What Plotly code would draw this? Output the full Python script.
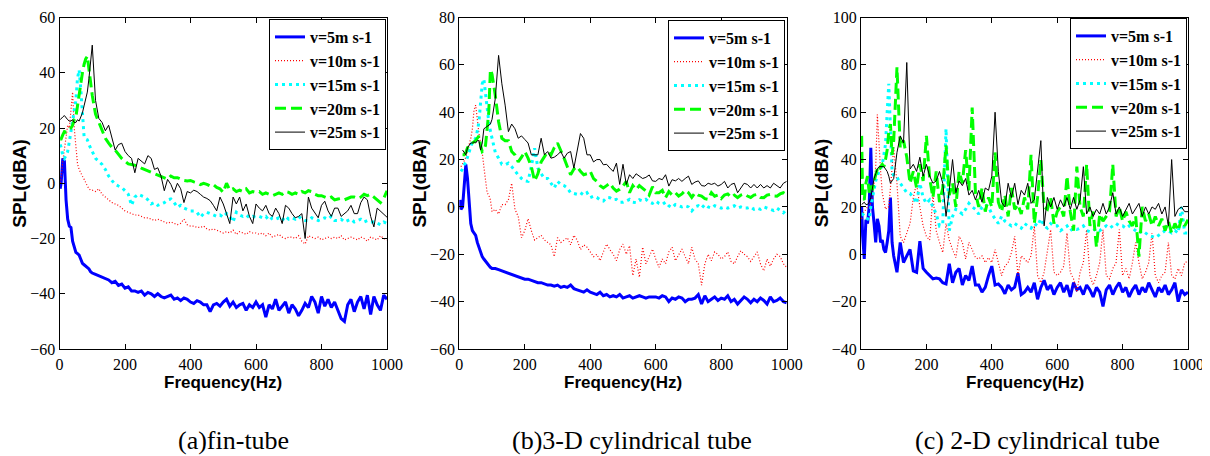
import plotly.graph_objects as go
from plotly.subplots import make_subplots

# frequency grid (Hz)
f_low = [2] + list(range(5, 101, 5))
f_high = list(range(110, 1001, 10))
freq = f_low + f_high

labels = ["v=5m s-1", "v=10m s-1", "v=15m s-1", "v=20m s-1", "v=25m s-1"]
captions = ["(a)fin-tube", "(b)3-D cylindrical tube", "(c) 2-D cylindrical tube"]

# (a) fin-tube, SPL(dBA)
a_v5 = [-2, 0, 9, 8, -6, -13, -15.5, -16, -21, -23, -25, -25.5, -26, -27.5, -29, -29.5, -30, -30.5, -31, -32, -32.5,
        -33, -33.5, -34, -34.5, -35, -36, -35.5, -37, -36.5, -38,
        -37.5, -39, -39, -39.5, -39, -40.5, -39.5, -40, -41, -40,
        -41, -41.5, -41, -40.5, -42, -41.5, -42.5, -41.5, -42, -43,
        -43.5, -42.5, -43, -44, -44, -46.5, -44, -43.5, -44.5, -43,
        -42, -44.5, -43, -45, -44, -43.5, -46, -44, -45, -43,
        -45, -44, -48.5, -44, -45.5, -42, -46, -44.5, -43, -47,
        -44, -45.5, -48, -46, -43.5, -45, -41, -43, -47, -41,
        -44.5, -42, -45, -43, -46, -49, -50, -44, -42, -46.5,
        -43, -41, -45.5, -40.5, -47.5, -41, -44, -46, -40.5, -42]
a_v10 = [0, 2, 8, 13, 18, 21, 20, 28, 33, 20, 12, 7, 5, 3.5, 2.5, 1.5, 0, -1, -2, -2.5, -2.5,
         -3, -2, -4, -5, -6, -7, -7.5, -8, -9, -10,
         -10.5, -11, -11.5, -11.5, -12, -12.5, -12.5, -13, -13.5, -13,
         -13.5, -14, -14.5, -14, -14.5, -15, -14.5, -13, -15, -15.5,
         -15.5, -16, -16, -15.5, -16.5, -17, -16.5, -17, -17.5, -18,
         -17.5, -18, -17, -18.5, -17.5, -18, -18.5, -17.5, -18, -18,
         -18.5, -18, -19, -18, -19.5, -19, -18.5, -19.5, -20, -19.5,
         -19.5, -20, -19, -21, -22, -19, -19.5, -20, -19.5, -20.5,
         -20, -19.5, -20, -19.5, -20, -19, -20.5, -20, -19.5, -20,
         -20.5, -19.5, -20, -21, -19.5, -20, -20.5, -19, -20, -20.5]
a_v15 = [14, 13, 10, 9, 10, 11.5, 15, 18.7, 22, 26, 30, 38, 41, 34, 26, 17, 16, 15.7, 14, 12.5, 11.5,
         9, 8, 6.8, 5, 2.6, 1, -0.4, -1, -1.5, -2.7,
         -4, -8, -5, -4, -4.5, -5, -6, -7.5, -7, -8,
         -7.5, -7, -6, -5.7, -7, -8.7, -8, -9, -9.5, -10,
         -10, -10.5, -12.3, -11, -10.5, -11, -11.5, -12, -11.5, -12.3,
         -11, -12, -14, -10.5, -11.5, -12, -11.5, -12.5, -12, -12.3,
         -12, -12.5, -12, -13.5, -12.5, -13, -12.5, -13.5, -12, -13,
         -12.5, -13, -12, -13, -13.5, -13.5, -12.5, -13, -13.5, -13,
         -12.5, -13, -12, -13.5, -13.5, -13, -14, -13.5, -13, -14,
         -13.5, -13, -14, -13.5, -14, -14, -14.5, -15, -14, -14.6]
a_v20 = [16, 16, 17.5, 18.7, 18.5, 19, 19.5, 20, 21, 23, 24, 28, 32, 37, 40, 43, 45, 46, 41, 36, 31.8,
         25, 22, 18.7, 16.3, 14.5, 13, 12, 10.5, 9, 8,
         7, 6.8, 6.5, 6.2, 5.5, 5, 4.5, 4, 3.5, 3.2,
         2.5, 2, 1.5, 2.6, 2, 2, 1.5, 1, 0.8, 1,
         0.5, 0.2, -0.5, 0, -0.4, -1, -0.5, -1.5, -2, -3.3,
         0, -2.5, -2, -3, -2.5, -3, -2, -3.5, -3, -3.3,
         -3, -4, -3.5, -4, -4.5, -4, -3.5, -4, -3, -3.3,
         -4, -3.5, -4, -3, -3.5, -2.7, -3, -4, -4.5, -4.5,
         -5, -5.5, -5, -6, -5.7, -5.5, -6, -5.5, -5, -5,
         -5.5, -5, -4, -4.5, -4, -5, -6, -7, -5.5, -2.7]
a_v25 = [23, 23.5, 24, 24.5, 23.5, 23, 22.5, 22.5, 23, 22, 22, 23, 22.5, 24, 25.5, 28, 30.5, 33, 38, 44, 50,
         30, 23.5, 22, 19, 21, 16, 12, 14, 14.5, 11.5,
         10, 9, 3.8, 9, 8, 7, 10, 9, 5, 5.6,
         2.6, -2.7, 1.4, -0.4, -3.3, 0, -2, -7, -3, -3.5,
         -2.5, -3, -4, -5, -5.5, -6.3, -8, -10, -5, -7.5,
         -11, -14.6, -5, -7.5, -5, -10, -7.5, -12, -14.6, -7.5,
         -9, -10, -8, -11, -12, -9, -11, -14.6, -8, -9,
         -11, -12.5, -12, -11, -20, -5, -9, -11, -12.5, -8,
         -6.5, -10, -12, -9, -9, -12, -11, -10, -8, -11,
         -11, -7, -5, -6, -12, -15.8, -9, -10, -11, -12.3]

# (b) 3-D cylindrical tube
b_v5 = [3, -1, 0, 8, 18, 12, 0, -7, -10, -11, -12, -15, -17, -19, -21, -22, -23, -24, -25, -25.5, -26,
        -26, -26.5, -27, -27.5, -28, -28.5, -29, -29.5, -30, -30.5,
        -30.5, -31, -31.5, -32, -32, -32.5, -33, -33, -33.5, -33,
        -34, -33.5, -34, -33, -34.5, -35, -35.5, -36, -35, -36,
        -36.5, -37, -36, -37.5, -37, -38, -37.5, -38, -37, -38.5,
        -38, -37.5, -38.5, -38, -37.5, -38, -38.5, -38, -38, -38,
        -38.5, -37.5, -38, -40, -38.5, -39, -38, -38.5, -40, -39,
        -39, -38.5, -37, -41, -37.5, -40, -39, -38, -39.5, -38.5,
        -39, -37.5, -40, -39, -41, -39.5, -38, -39, -40.5, -39,
        -40, -38.5, -39.5, -41, -38, -40, -39.5, -38.5, -40, -40.5]
b_v10 = [None, 17, 18, 19.5, 21, 23.5, 26, 29, 33, 41, 43, 36, 31, 27, 23, 17, 11, 6, 5, 3, -2,
         -1, -3, 1, 1, 3, 10, -1, -4, -13, -10,
         -5, -10, -14, -13, -12, -14, -15, -16, -21, -13,
         -15, -14, -13, -16, -12, -14, -18, -16, -17, -19,
         -21, -20, -22.7, -19, -15.7, -18, -20, -22.7, -18, -15.7,
         -20, -16.4, -29, -22, -29.7, -17, -24, -21, -17.8, -22,
         -25.5, -22, -24, -19, -17, -22.7, -20, -17.8, -21, -24,
         -17, -22, -24, -33, -24, -20, -22.7, -19, -20, -22,
         -21, -19, -23, -24, -21, -18.5, -20, -21, -23, -21,
         -19, -24, -27, -22, -25, -22, -20, -21, -24, -25.5]
b_v15 = [None, 15, 16, 17.8, 19, 21, 23.4, 25, 27.6, 28, 29, 32, 36, 44, 52, 54, 47, 40, 36, 32, 29,
         23, 20.6, 18, 17.8, 18.5, 17, 15, 13.5, 12, 11,
         10.8, 17, 24.8, 16.4, 14, 12, 12, 10, 8, 10.8,
         9.5, 9, 8, 6, 5.5, 5.3, 6, 5, 6, 3.9,
         4.5, 4, 3, 2.5, 4, 3.9, 3, 3.2, 2, 2,
         2.5, 3.2, 2, 1.8, 3, 2.5, 3.2, 2, 1.5, 2.5,
         1.5, 1, 2, 0.5, -0.3, 1, 0.5, 0, 0.5, 0,
         -1.7, 0, 0.5, -0.5, 1, 0, -0.5, 0.5, 0, -0.5,
         0, -0.5, 0, 0.5, -0.5, 0, -0.5, -0.5, 0, -1,
         -0.5, -1, 0, -0.5, -1, -1.5, -0.5, -1.7, -2.5, -1]
b_v20 = [None, None, 22, 22, 23, 25, 26, 26.5, 27, 27.6, 28, 29, 30, 26, 23.4, 24, 26, 33, 40, 58, 56,
         47, 36, 29, 28, 28, 23.4, 22, 19, 21, 23.4,
         20.6, 17, 11, 14, 19, 21, 23.4, 22, 25, 27,
         24, 20.6, 17, 13.6, 16, 17, 15, 13.6, 14, 15,
         12, 10.8, 9, 8, 9, 10, 8, 6.7, 7.5, 8.8,
         10.8, 6, 9, 7.3, 9, 8, 6.7, 5, 8.5, 6,
         6, 7, 3.9, 6.5, 5, 6, 4.6, 5.5, 7, 6,
         4, 6, 5, 4.6, 3.5, 3.2, 6, 4.5, 5, 3.5,
         5, 5.5, 4, 5, 3.9, 5, 5.5, 4.6, 4, 5,
         5.3, 4, 3.9, 5, 5.3, 4.6, 4.5, 5.5, 6, 5.3]
b_v25 = [None, None, 24, 23, 22, 25, 26, 27, 27, 27.5, 27, 28, 28, 24, 27, 33, 33.5, 34, 34.6, 35, 37,
         45.8, 64, 52, 43, 31.8, 35, 33, 29, 30, 28.5,
         27, 22, 22, 22, 29, 22, 23.4, 20.6, 21, 22,
         23.4, 20.6, 22.7, 23.4, 16.4, 23, 31, 29, 22, 22,
         19, 20, 20, 17.8, 18, 16.4, 15, 18.5, 9.5, 18,
         9.5, 13.6, 12, 14, 13, 12, 12.5, 13.5, 11, 10.8,
         12, 11.5, 13.6, 8.8, 11.5, 11, 12, 10.8, 12, 13,
         9.5, 10.5, 11, 9, 8.8, 10, 9.5, 10, 8.8, 9.5,
         10.8, 8, 9.5, 10, 6, 8, 10, 9.5, 8, 9.5,
         8, 9.5, 8, 9, 8, 10, 9, 8, 10, 10.8]

# (c) 2-D cylindrical tube
c_v5 = [20, 8, -2, 14.6, 13, 20, 45, 20, 13, 5, 15, 12, 5, 6, 2, 0.7, 5, 10, 24, 5, -0.7,
        -7.6, 5, -3.5, -0.7, 2, -7, -7.6, 5.5, -6, -7.6,
        -9, -10.4, -10, -10.4, -12, -12.5, -4, -12, -7.6, -6,
        -13, -9, -11, -5, -13, -13, -16, -14, -9, -5,
        -13, -12.5, -14, -16.7, -13, -15, -13.9, -8, -17, -16,
        -14, -16, -12, -19, -14, -11, -15, -13, -17, -14,
        -12, -16, -13, -18, -12, -15, -14, -17, -13, -15,
        -18, -14, -16, -22, -15, -13, -17, -14, -12, -16,
        -14, -18, -15, -13, -17, -14, -16, -12, -15, -18,
        -14, -16, -13, -17, -15, -12, -20, -15, -17, -16]
c_v10 = [15, 17, 18, 19, 20, 20, 22, 24, 30, 37, 59, 44, 35, 26, 22, 19, 20, 20, 28, 35, 45,
         30, 7.6, 5, 9, 13, 24, 30, 20, 12, 7.6,
         6, 25, 10, 5, 0.7, 13, 6, 2, -1.4, 7.6,
         5, -2, 5, 2, -1.4, -2, -0.7, -3.5, -1.4, -3.5,
         2, -3.5, -9, -5, -3.5, 0.7, 7.6, -9, -0.7, -2,
         -3.5, -0.7, 12, -9, -12, -7.6, 2, 10.4, -7.6, -9,
         -7.6, -5, 9, -7.6, -10.4, -16, -7.6, -3.5, 10.4, -9,
         -13, -9, -3.5, 10.4, -9, -10.4, -6, -3.5, 10.4, -9,
         -6, -10.4, -3.5, 5, -3.5, -10.4, -7.6, -3.5, 9, -9,
         -12, -9, -7.6, 5, -9, -10.4, -6, -9, -3.5, -3]
c_v15 = [17, 17, 16, 16, 15, 14.6, 20, 24, 28, 31, 33, 35, 36, 38, 42, 46.5, 60, 72, 53, 35, 33,
         32.6, 30, 28, 26, 25.7, 24, 21.5, 30, 24, 21.5,
         23, 20, 17, 12, 13, 53, 10, 16, 19, 18,
         17, 19, 21.5, 20, 19, 17, 20, 21, 20, 17,
         15, 13, 16, 14, 13, 12, 13, 12, 11, 13,
         12, 11, 13, 12, 15, 12, 11, 13, 12, 12,
         10, 11, 12, 10, 11, 10.5, 11, 12, 10, 9.5,
         10, 11, 10, 11, 12, 11, 12, 13, 12, 12,
         11, 12, 11, 10, 9, 10, 9, 8, 7.5, 7,
         8, 9, 10, 10, 9, 10, 9, 20, 9, 9]
c_v20 = [50, 24, 23, 30, 33, 26, 29, 27, 31, 34, 36, 35, 37, 38, 37, 40, 44, 52, 55, 42, 48,
         79, 45, 48, 41, 30, 35, 28, 38, 31, 50,
         32, 24, 35, 22, 28, 46, 25, 30, 20, 35,
         30, 44, 27, 62, 26, 20, 28, 18, 24, 20,
         43, 22, 18, 25, 16, 28, 19, 21, 17, 24,
         19, 42, 13, 24, 40, 20, 19, 24, 13, 18,
         20, 16, 33, 18, 10, 37, 20, 16, 38, 12,
         18, 3, 17, 14, 16, 18, 38, 16, 20, 14,
         18, 14, 12, 16, -1, 20, 14, 17, 12, 16,
         12, 15, 10, 14, 9, 13, 10, 15, 12, 14.6]
c_v25 = [21, 21.5, 22, 21, 21, 22, 24, 28, 32, 34, 36, 37, 37, 37, 37, 36, 35, 33, 30, 31, 32,
         43, 50, 47, 81, 36, 38, 35, 41, 33, 38,
         33, 30, 31, 35, 30, 16, 27, 40, 26, 31,
         29, 32, 25, 27, 23, 27, 22, 28, 27, 33,
         60, 35, 22, 20, 30, 24, 30, 21, 27, 25,
         30, 21.5, 23, 35, 48, 12, 24, 20, 24, 19,
         23, 20, 24, 19, 24, 19, 23, 37, 17, 20,
         16, 19, 17, 21.5, 17, 20, 26, 17, 20, 16,
         19, 21.5, 17, 19, 21.5, 16, 20, 17, 20, 19,
         21.5, 17, 20, 12, 40, 16, 19, 20, 18, 18]

W, H = 1210, 456
OFF = 8  # page body margin


def px(x):
    return (x - OFF) / W


def py(y):
    return 1 - (y - OFF) / H


styles = [
    dict(color="#0000ff", width=3, dash="solid"),
    dict(color="#ff0000", width=1.2, dash="1px,2px"),
    dict(color="#00ffff", width=3, dash="3px,4px"),
    dict(color="#00ff00", width=3, dash="11px,5px"),
    dict(color="#000000", width=1, dash="solid"),
]

panels = [
    dict(series=[a_v5, a_v10, a_v15, a_v20, a_v25], yr=[-60, 60], xd=[59.5, 387], yd=[17.5, 349], leg=(269, 19)),
    dict(series=[b_v5, b_v10, b_v15, b_v20, b_v25], yr=[-60, 80], xd=[459.3, 786.7], yd=[17.5, 349], leg=(668, 20)),
    dict(series=[c_v5, c_v10, c_v15, c_v20, c_v25], yr=[-40, 100], xd=[861, 1188], yd=[17.5, 349], leg=(1070, 18)),
]

serif = "Liberation Serif, Times New Roman, serif"
sans = "Liberation Sans, Arial, sans-serif"

fig = make_subplots(rows=1, cols=3)
layout_upd = {}
annotations = []
for i, p in enumerate(panels):
    n = "" if i == 0 else str(i + 1)
    legname = "legend" + n
    for vals, lab, st in zip(p["series"], labels, styles):
        fig.add_trace(go.Scatter(x=freq, y=vals, mode="lines", name=lab, line=st,
                                 legend=legname, showlegend=True), row=1, col=i + 1)
    axstyle = dict(showline=True, linecolor="black", linewidth=1, mirror="ticks", automargin=False,
                   ticks="inside", ticklen=5, tickcolor="black", showgrid=False, zeroline=False,
                   ticklabeloverflow="allow",
                   tickfont=dict(family=serif, size=16, color="black"))
    layout_upd["xaxis" + n] = dict(domain=[px(p["xd"][0]), px(p["xd"][1])], range=[0, 1000],
                                   tickvals=[0, 200, 400, 600, 800, 1000], ticklabelstandoff=1, **axstyle)
    layout_upd["yaxis" + n] = dict(domain=[py(p["yd"][1]), py(p["yd"][0])], range=p["yr"],
                                   tickvals=list(range(p["yr"][0], p["yr"][1] + 1, 20)), **axstyle)
    layout_upd[legname] = dict(x=px(p["leg"][0]), y=py(p["leg"][1]), xanchor="left", yanchor="top",
                               bgcolor="white", bordercolor="black", borderwidth=1,
                               font=dict(family=serif, size=16, color="black", weight="bold"),
                               itemwidth=30, tracegroupgap=0)
    cx = (p["xd"][0] + p["xd"][1]) / 2
    cy = (p["yd"][0] + p["yd"][1]) / 2
    annotations.append(dict(x=px(cx), y=py(382), xref="paper", yref="paper", showarrow=False,
                            xanchor="center", yanchor="middle",
                            text="<b>Frequency(Hz)</b>", font=dict(family=sans, size=17, color="black")))
    annotations.append(dict(x=px(p["xd"][0] - 40), y=py(cy), xref="paper", yref="paper", showarrow=False,
                            xanchor="center", yanchor="middle",
                            text="<b>SPL(dBA)</b>", textangle=-90,
                            font=dict(family=sans, size=19, color="black")))

cap_x = [233, 632, 1037]
for cx, cap in zip(cap_x, captions):
    annotations.append(dict(x=px(cx), y=py(440), xref="paper", yref="paper", showarrow=False,
                            xanchor="center", yanchor="middle",
                            text=cap, font=dict(family=serif, size=26, color="black")))

fig.update_layout(width=W, height=H, margin=dict(l=0, r=0, t=0, b=0, autoexpand=False),
                  plot_bgcolor="white", paper_bgcolor="white",
                  annotations=annotations, **layout_upd)

fig.write_html("out.html", config={"displayModeBar": False})
